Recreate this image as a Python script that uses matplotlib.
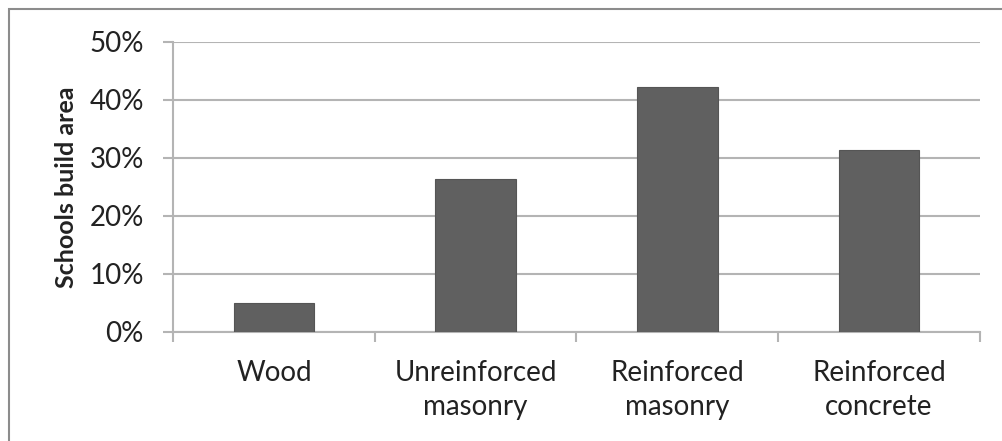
import matplotlib
matplotlib.use("Agg")
import matplotlib.pyplot as plt
from matplotlib.patches import Rectangle
from matplotlib.ticker import FixedLocator, PercentFormatter

categories = ["Wood", "Unreinforced\nmasonry", "Reinforced\nmasonry", "Reinforced\nconcrete"]
shares = [5.0, 26.3, 42.3, 31.4]
y_ticks = [0, 10, 20, 30, 40, 50]

plt.rcParams['font.family'] = ['Lato', 'DejaVu Sans']

fig = plt.figure(figsize=(10.03, 4.41), dpi=100)
ax = fig.add_axes([0.1725, 0.2472, 0.977 - 0.1725, 0.9048 - 0.2472])

# outer chart frame (right and bottom edges fall off the image)
fig.patches.append(Rectangle((9 / 1003, -0.1), 1.2, 1 - 9 / 441 + 0.1,
                             transform=fig.transFigure, fill=False,
                             edgecolor='#8c8c8c', linewidth=1.5))

x = range(len(categories))
ax.bar(x, shares, width=0.4, color='#606060', edgecolor='#555555', linewidth=0.8, zorder=3)

ax.set_xlim(-0.5, len(categories) - 0.5)
ax.set_ylim(0, 50)
ax.set_yticks(y_ticks)
ax.yaxis.set_major_formatter(PercentFormatter(decimals=0))
ax.yaxis.grid(True, color='#b4b4b4', linewidth=1.5, zorder=0)

ax.set_xticks(list(x))
ax.set_xticklabels(categories, linespacing=1.4)
ax.xaxis.set_minor_locator(FixedLocator([i - 0.5 for i in range(len(categories) + 1)]))
ax.tick_params(axis='x', which='major', length=0, pad=20)
ax.tick_params(axis='x', which='minor', length=7, width=1.5, color='#b4b4b4')
ax.tick_params(axis='y', length=7, width=1.5, color='#b4b4b4', pad=14)
ax.tick_params(labelsize=20, labelcolor='#222222')

for side in ['top', 'right']:
    ax.spines[side].set_visible(False)
for side in ['left', 'bottom']:
    ax.spines[side].set_color('#b4b4b4')
    ax.spines[side].set_linewidth(1.5)

ax.set_ylabel("Schools build area", fontsize=18, fontweight='bold', color='#222222', labelpad=8)

fig.savefig("out.png", dpi=100)
